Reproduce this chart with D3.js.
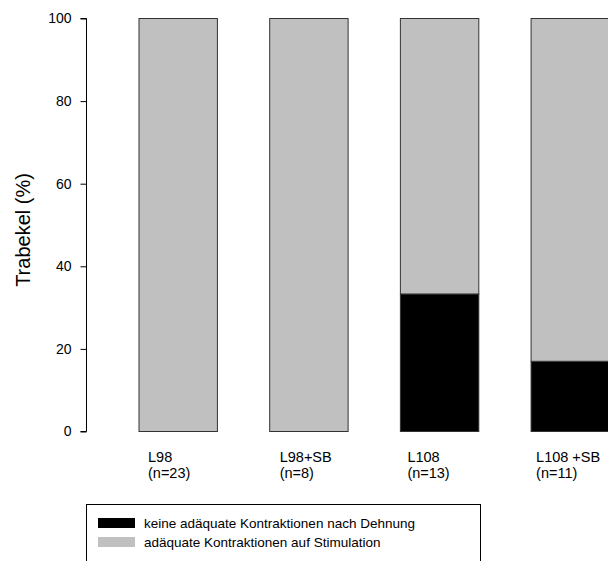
<!DOCTYPE html>
<html>
<head>
<meta charset="utf-8">
<script src="https://cdn.jsdelivr.net/npm/d3@7"></script>
<style>
  html, body { margin: 0; padding: 0; background: #fff; }
  svg { display: block; font-family: "Liberation Sans", Arial, sans-serif; }
</style>
</head>
<body>
<svg id="chart" width="608" height="561"></svg>
<script>
const categories = ["L98", "L98+SB", "L108", "L108 +SB"];
const nLabels = ["(n=23)", "(n=8)", "(n=13)", "(n=11)"];
const keine = [0, 0, 33.3, 17];
const adaequat = [100, 100, 66.7, 83];
const yTicks = [0, 20, 40, 60, 80, 100];
const seriesNames = ["keine adäquate Kontraktionen nach Dehnung", "adäquate Kontraktionen auf Stimulation"];
const seriesColors = ["#000000", "#c0c0c0"];

const svg = d3.select("#chart");
const x = d3.scaleBand().domain(categories).range([139, 609.5]).paddingInner(0.4).paddingOuter(0);
const y = d3.scaleLinear().domain([0, 100]).range([431.5, 18.5]);

const rows = categories.map((c, i) => ({ cat: c, keine: keine[i], adaequat: adaequat[i] }));
const stack = d3.stack().keys(["keine", "adaequat"])(rows);

stack.forEach((s, si) => {
  svg.append("g").selectAll("rect").data(s).join("rect")
    .attr("x", d => x(d.data.cat))
    .attr("y", d => y(d[1]))
    .attr("width", x.bandwidth())
    .attr("height", d => y(d[0]) - y(d[1]))
    .attr("fill", seriesColors[si])
    .attr("stroke", d => (d[1] - d[0]) > 0 ? "#333" : "none")
    .attr("stroke-width", 1);
});

// y axis
const yAxis = d3.axisLeft(y).tickValues(yTicks).tickSize(6).tickPadding(9).tickFormat(d3.format("d"));
const ga = svg.append("g").attr("transform", "translate(86.5,0)").call(yAxis);
ga.select(".domain").attr("stroke", "#000").attr("d", `M-6,${y(0)}H0V${y(100)}H-6`).attr("stroke-width", 1);
ga.selectAll(".tick line").attr("stroke", "#000");
ga.selectAll(".tick text").attr("font-size", "14px").attr("fill", "#000")
  .attr("font-family", "Liberation Sans, Arial, sans-serif");

svg.append("text")
  .attr("transform", `translate(30,${(y(0) + y(100)) / 2 + 5}) rotate(-90)`)
  .attr("text-anchor", "middle")
  .attr("font-size", "20px")
  .text("Trabekel (%)");

// category labels
const labelOffset = [9, 10, 7, 5];
categories.forEach((c, i) => {
  const t = svg.append("text")
    .attr("x", x(c) + labelOffset[i])
    .attr("y", 462)
    .attr("font-size", "14.5px");
  t.append("tspan").attr("x", x(c) + labelOffset[i]).text(c);
  t.append("tspan").attr("x", x(c) + labelOffset[i]).attr("dy", 16).text(nLabels[i]);
});

// legend
svg.append("rect")
  .attr("x", 86.5).attr("y", 504.5)
  .attr("width", 394).attr("height", 80)
  .attr("fill", "none").attr("stroke", "#000");
seriesNames.forEach((n, i) => {
  svg.append("rect")
    .attr("x", 98).attr("y", 518 + i * 19)
    .attr("width", 37).attr("height", 10)
    .attr("fill", seriesColors[i]);
  svg.append("text")
    .attr("x", 144).attr("y", 528 + i * 19)
    .attr("font-size", "13.5px")
    .text(n);
});
</script>
</body>
</html>
